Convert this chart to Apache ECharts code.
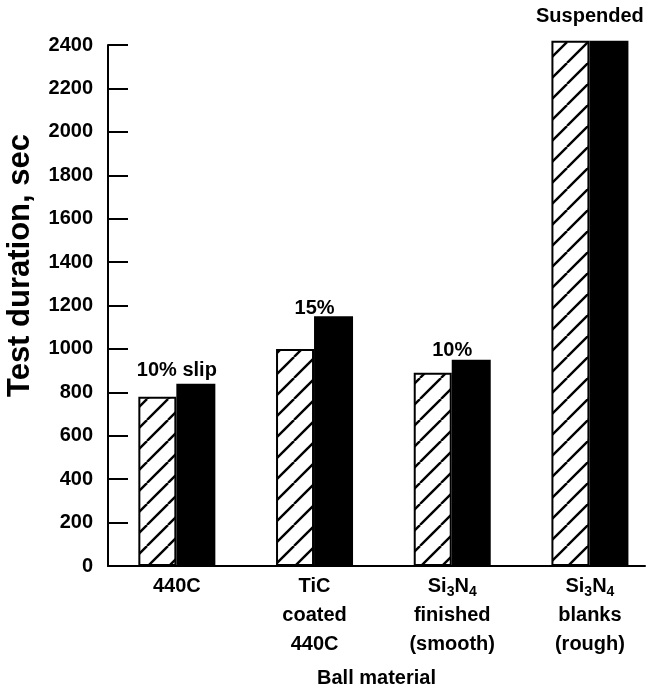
<!DOCTYPE html>
<html>
<head>
<meta charset="utf-8">
<script src="https://cdn.jsdelivr.net/npm/echarts@6/dist/echarts.min.js"></script>
<style>
  html, body { margin: 0; padding: 0; background: #fff; }
  #chart { width: 653px; height: 694px; }
</style>
</head>
<body>
<div id="chart"></div>
<script>
// Ball materials on the horizontal axis (rich-text tags give the subscripts)
const materials = [
  '440C',
  'TiC\ncoated\n440C',
  '{a|Si}{s|3}{a|N}{s|4}\nfinished\n(smooth)',
  '{a|Si}{s|3}{a|N}{s|4}\nblanks\n(rough)'
];
// Test durations, seconds
const hatchedDuration = [780, 1000, 890, 2420];
const solidDuration = [840, 1150, 950, 2420];
// Notes printed above each pair
const notes = ['10% slip', '15%', '10%', 'Suspended'];
const yTicks = { min: 0, max: 2400, step: 200 };

// Extra lift (px) of each note above its bar
const noteLift = [3, -2, -1, 14];

const FONT = '"Liberation Sans", Arial, Helvetica, sans-serif';

// Diagonal "/" hatch tile
function hatchTile() {
  const n = 21;
  const c = document.createElement('canvas');
  c.width = n; c.height = n;
  const g = c.getContext('2d');
  g.fillStyle = '#fff';
  g.fillRect(0, 0, n, n);
  g.strokeStyle = '#000';
  g.lineWidth = 2.4;
  for (const k of [-n, 0, n]) {
    g.beginPath();
    g.moveTo(k, n);
    g.lineTo(k + n, 0);
    g.stroke();
  }
  return c;
}

const positions = materials.map((_, i) => i);
const chart = echarts.init(document.getElementById('chart'), null, { renderer: 'canvas' });

chart.setOption({
  animation: false,
  backgroundColor: '#fff',
  grid: { left: 108, right: 8, top: 45, bottom: 128, containLabel: false, outerBoundsMode: 'none' },
  xAxis: {
    type: 'value',
    min: -0.5,
    max: 3.4,
    splitLine: { show: false },
    axisLine: { show: true, lineStyle: { color: '#000', width: 2 } },
    axisTick: { show: false },
    axisLabel: {
      customValues: positions,
      formatter: v => materials[v],
      color: '#000',
      fontFamily: FONT,
      fontWeight: 'bold',
      fontSize: 20,
      lineHeight: 29,
      margin: 6,
      rich: {
        a: { fontFamily: FONT, fontWeight: 'bold', fontSize: 20, color: '#000', lineHeight: 29 },
        s: { fontFamily: FONT, fontWeight: 'bold', fontSize: 14, color: '#000', padding: [12, 0, 0, 0] }
      }
    },
    name: 'Ball material',
    nameLocation: 'middle',
    nameGap: 102,
    nameTextStyle: { color: '#000', fontFamily: FONT, fontWeight: 'bold', fontSize: 20 }
  },
  yAxis: {
    type: 'value',
    min: yTicks.min,
    max: yTicks.max,
    interval: yTicks.step,
    splitLine: { show: false },
    axisLine: { show: true, onZero: false, lineStyle: { color: '#000', width: 2 } },
    axisTick: { show: true, inside: true, length: 20, lineStyle: { color: '#000', width: 2 } },
    axisLabel: {
      formatter: v => String(v),
      color: '#000',
      fontFamily: FONT,
      fontWeight: 'bold',
      fontSize: 20,
      margin: 15
    },
    name: 'Test duration, sec',
    nameLocation: 'middle',
    nameGap: 72,
    nameRotate: 90,
    nameTextStyle: {
      color: '#000', fontFamily: FONT, fontWeight: 'bold', fontSize: 31,
      padding: [0, 0, 0, 80]
    }
  },
  series: [
    {
      type: 'bar',
      name: 'hatched',
      clip: false,
      barWidth: 38,
      barGap: '0%',
      data: hatchedDuration.map((v, i) => [positions[i], v]),
      itemStyle: {
        color: { image: hatchTile(), repeat: 'repeat' },
        borderColor: '#000',
        borderWidth: 2
      }
    },
    {
      type: 'bar',
      name: 'solid',
      clip: false,
      barWidth: 39,
      barGap: '0%',
      data: solidDuration.map((v, i) => ({
        value: [positions[i], v],
        label: { offset: [-19, -noteLift[i]] }
      })),
      itemStyle: { color: '#000' },
      label: {
        show: true,
        position: 'top',
        distance: 0,
        formatter: p => notes[p.dataIndex],
        color: '#000',
        fontFamily: FONT,
        fontWeight: 'bold',
        fontSize: 20
      }
    }
  ]
});
</script>
</body>
</html>
